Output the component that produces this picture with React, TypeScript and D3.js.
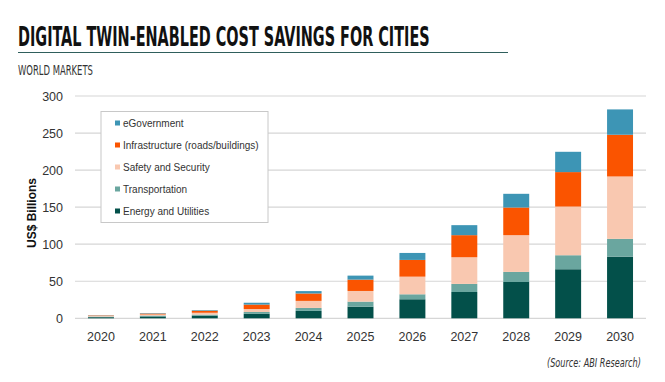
import React, { useLayoutEffect, useRef, useState } from "react";
import * as d3 from "d3";

const years = ["2020", "2021", "2022", "2023", "2024", "2025", "2026", "2027", "2028", "2029", "2030"];
const energy = [1.5, 2.5, 3.5, 6, 10, 15.7, 25.7, 35.5, 49, 66.2, 83.2];
const transportation = [0.8, 1.2, 1.5, 2.5, 4, 6.8, 6.7, 10.9, 13.6, 18.9, 24];
const safety = [0.8, 1.5, 2.5, 4, 9.5, 14.4, 23.8, 36, 49.6, 65.7, 84.2];
const infrastructure = [0.6, 1.2, 2.7, 6, 10, 15.3, 22.6, 29.8, 37.3, 46.5, 56.3];
const egovernment = [0.3, 0.6, 0.8, 2.5, 3.2, 5.4, 9.4, 13.5, 18.5, 27.4, 34.2];
const yTicks = [0, 50, 100, 150, 200, 250, 300];

const seriesNames = ["Energy and Utilities", "Transportation", "Safety and Security", "Infrastructure (roads/buildings)", "eGovernment"];
const seriesValues = [energy, transportation, safety, infrastructure, egovernment];
const colors = ["#03504a", "#6aa69f", "#f9c8b0", "#fa5400", "#3d95b5"];

function ScaledText(props: { x: number; y: number; target: number; size: number; children: string; [k: string]: any }) {
  const { x, y, target, size, children, ...rest } = props;
  const ref = useRef<SVGTextElement>(null);
  const [sx, setSx] = useState(1);
  useLayoutEffect(() => {
    if (ref.current) {
      const w = ref.current.getComputedTextLength();
      if (w > 0) setSx(target / w);
    }
  }, []);
  return (
    <text ref={ref} transform={`translate(${x},${y}) scale(${sx},1)`} fontSize={size} {...rest}>
      {children}
    </text>
  );
}

export default function App() {
  const left = 75, right = 646, top = 96, bottom = 318.3;
  const x = d3.scaleBand().domain(years).range([left, right]).paddingInner(0.5).paddingOuter(0.25);
  const y = d3.scaleLinear().domain([0, 300]).range([bottom, top]);

  const table = years.map((yr, i) => {
    const row: any = { year: yr };
    seriesNames.forEach((n, k) => (row[n] = seriesValues[k][i]));
    return row;
  });
  const stacked = d3.stack().keys(seriesNames)(table);

  const legendOrder = [4, 3, 2, 1, 0];
  const narrow = "'DejaVu Sans Condensed', 'Liberation Sans', sans-serif";

  return (
    <svg width={665} height={382} style={{ position: "absolute", left: 0, top: 0, background: "#fff" }}>
      <rect width={665} height={382} fill="#fff" />
      <ScaledText x={18} y={45.5} target={412} size={27} fontFamily={narrow} fontWeight="bold" fill="#111">
        DIGITAL TWIN-ENABLED COST SAVINGS FOR CITIES
      </ScaledText>
      <line x1={18} x2={508} y1={52.5} y2={52.5} stroke="#2f5f5c" strokeWidth={1} />
      <ScaledText x={18} y={75} target={75} size={14} fontFamily={narrow} fill="#333">
        WORLD MARKETS
      </ScaledText>

      {yTicks.map((t) => (
        <g key={t}>
          <line x1={left} x2={right} y1={y(t)} y2={y(t)} stroke="#d6d6d6" strokeWidth={1.2} />
          <text x={63} y={y(t) + 4.5} textAnchor="end" fontFamily="'Liberation Sans', Arial, sans-serif" fontSize={12.5} fill="#333">
            {t}
          </text>
        </g>
      ))}

      {stacked.map((s, k) => (
        <g key={k} fill={colors[k]}>
          {s.map((d, i) => (
            <rect key={i} x={x(years[i])} width={x.bandwidth()} y={y(d[1])} height={Math.max(0, y(d[0]) - y(d[1]))} />
          ))}
        </g>
      ))}

      {years.map((yr) => (
        <text key={yr} x={(x(yr) as number) + x.bandwidth() / 2} y={341} textAnchor="middle" fontFamily="'Liberation Sans', Arial, sans-serif" fontSize={12.5} fill="#333">
          {yr}
        </text>
      ))}

      <text transform="translate(36,213) rotate(-90)" textAnchor="middle" fontFamily="'Liberation Sans', Arial, sans-serif" fontWeight="bold" fontSize={12} fill="#111">
        US$ Billions
      </text>

      <rect x={101} y={111.5} width={167} height={111} fill="#fff" stroke="#c8c8c8" strokeWidth={1} />
      {legendOrder.map((k, j) => (
        <g key={k}>
          <rect x={115} y={123.3 + j * 22 - 2.8} width={5} height={5} fill={colors[k]} />
          <text x={123} y={123.3 + j * 22 + 3.5} fontFamily="'Liberation Sans', Arial, sans-serif" fontSize={10} fill="#333">
            {seriesNames[k]}
          </text>
        </g>
      ))}

      <ScaledText x={547} y={367} target={94} size={13} fontFamily={narrow} fontStyle="italic" fill="#333">
        (Source: ABI Research)
      </ScaledText>
    </svg>
  );
}
